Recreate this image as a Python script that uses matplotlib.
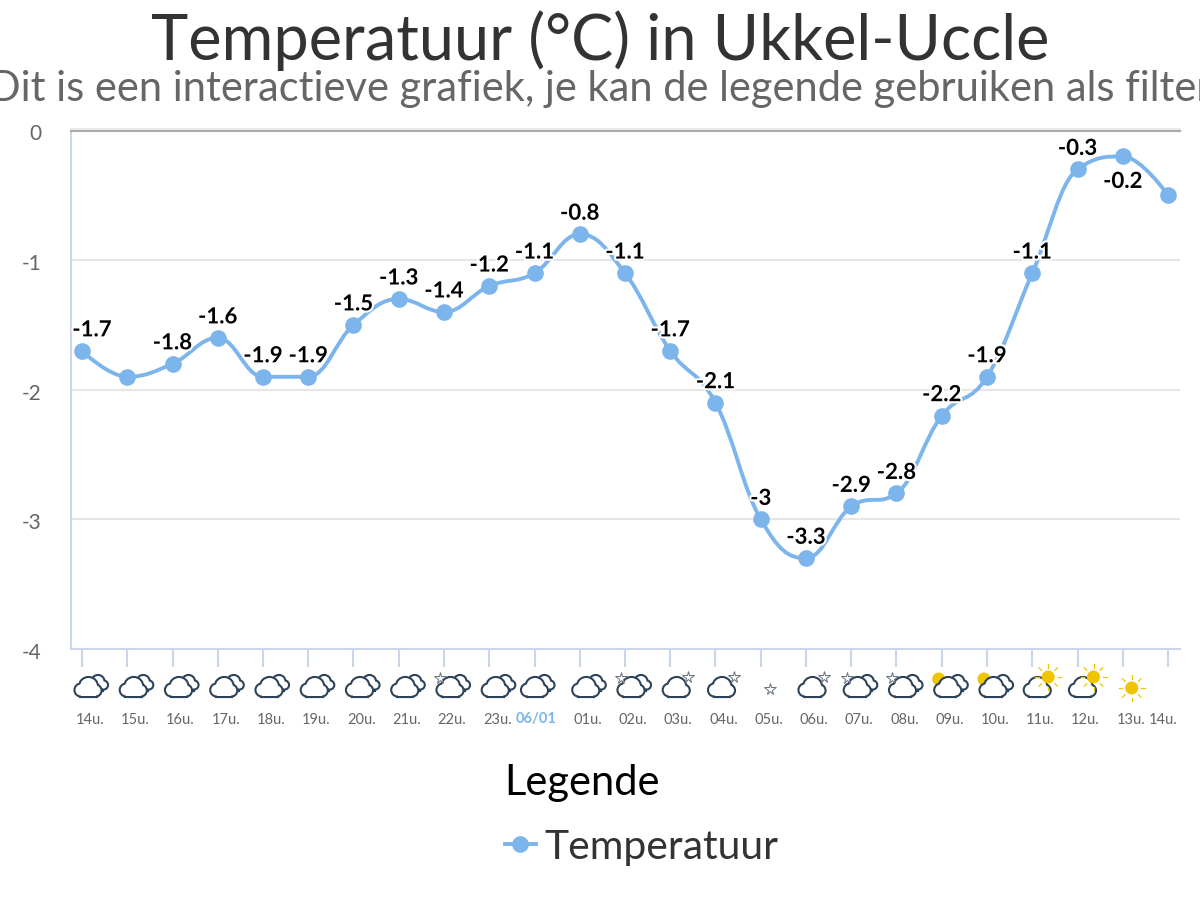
#!/usr/bin/env python3
import matplotlib
matplotlib.use("Agg")
import matplotlib.pyplot as plt
import matplotlib.patheffects as pe
from matplotlib.lines import Line2D
from matplotlib.patches import Circle, PathPatch, Rectangle
from matplotlib.path import Path
from matplotlib.transforms import ScaledTranslation
import numpy as np

plt.rcParams['font.family'] = ['Lato', 'DejaVu Sans']

# ============================================================================
# Data
# ============================================================================

hours = ['14u.', '15u.', '16u.', '17u.', '18u.', '19u.', '20u.', '21u.', '22u.', '23u.',
         '06/01', '01u.', '02u.', '03u.', '04u.', '05u.', '06u.', '07u.', '08u.', '09u.',
         '10u.', '11u.', '12u.', '13u.', '14u.']
temps = [-1.7, -1.9, -1.8, -1.6, -1.9, -1.9, -1.5, -1.3, -1.4, -1.2,
         -1.1, -0.8, -1.1, -1.7, -2.1, -3, -3.3, -2.9, -2.8, -2.2,
         -1.9, -1.1, -0.3, -0.2, -0.5]
# Labels the chart leaves out (index 1 and the last point)
hidden_labels = [1, 24]
labels_below = [23]
y_ticks = [0, -1, -2, -3, -4]

# Weather icon per hour
icons = ['clouds', 'clouds', 'clouds', 'clouds', 'clouds', 'clouds', 'clouds', 'clouds',
         'star_clouds', 'clouds', 'clouds', 'clouds', 'star_clouds', 'cloud_star', 'cloud_star',
         'star', 'cloud_star', 'star_clouds', 'star_clouds', 'sun_clouds', 'sun_clouds',
         'cloud_sun', 'cloud_sun', 'sun', None]

BLUE = '#7cb5ec'
AXIS = '#ccd6eb'
GRID = '#e6e6e6'
INK = '#2d4359'
SUN = '#f0c400'
STAR = '#66707c'


def spline_path(xs, ys, smoothing=1.5):
    """Bezier path through the points, same construction as a Highcharts spline."""
    denom = smoothing + 1
    verts = [(xs[0], ys[0])]
    codes = [Path.MOVETO]
    n = len(xs)
    left = [None] * n
    right = [None] * n
    for i in range(1, n - 1):
        lx = (smoothing * xs[i] + xs[i - 1]) / denom
        ly = (smoothing * ys[i] + ys[i - 1]) / denom
        rx = (smoothing * xs[i] + xs[i + 1]) / denom
        ry = (smoothing * ys[i] + ys[i + 1]) / denom
        corr = (ry - ly) * (rx - xs[i]) / (rx - lx) + ys[i] - ry
        ly += corr
        ry += corr
        # Avoid overshoot past the neighbours
        if ly > ys[i - 1] and ly > ys[i]:
            ly = max(ys[i - 1], ys[i])
            ry = 2 * ys[i] - ly
        elif ly < ys[i - 1] and ly < ys[i]:
            ly = min(ys[i - 1], ys[i])
            ry = 2 * ys[i] - ly
        if ry > ys[i + 1] and ry > ys[i]:
            ry = max(ys[i + 1], ys[i])
            ly = 2 * ys[i] - ry
        elif ry < ys[i + 1] and ry < ys[i]:
            ry = min(ys[i + 1], ys[i])
            ly = 2 * ys[i] - ry
        left[i] = (lx, ly)
        right[i] = (rx, ry)
    for i in range(1, n):
        c1 = right[i - 1] if right[i - 1] else (xs[i - 1], ys[i - 1])
        c2 = left[i] if left[i] else (xs[i], ys[i])
        verts += [c1, c2, (xs[i], ys[i])]
        codes += [Path.CURVE4] * 3
    return Path(verts, codes)


def outlined(ov, circles, rects, z):
    # Union of shapes: stroke everything first, then fill on top without stroke
    for c in circles:
        ov.add_patch(Circle(c[:2], c[2], fc='white', ec=INK, lw=3.0, zorder=z))
    for r in rects:
        ov.add_patch(Rectangle(r[:2], r[2], r[3], fc='white', ec=INK, lw=3.0, zorder=z))
    for c in circles:
        ov.add_patch(Circle(c[:2], c[2], fc='white', ec='none', zorder=z + 0.1))
    for r in rects:
        ov.add_patch(Rectangle(r[:2], r[2], r[3], fc='white', ec='none', zorder=z + 0.1))


def draw_cloud(ov, x0, y0=695.5, back=False):
    # x0 = left edge of the front cloud, y0 = its flat bottom (pixels, y down)
    if back:
        outlined(ov, [(x0 + 24, y0 - 14, 5.5), (x0 + 29.5, y0 - 10.5, 3.5)],
                 [(x0 + 20, y0 - 10, 8, 4)], 3)
    outlined(ov, [(x0 + 7, y0 - 5.5, 5.5), (x0 + 14.5, y0 - 9, 8.5), (x0 + 21.5, y0 - 5, 5)],
             [(x0 + 7, y0 - 5, 14.5, 5)], 4)


def draw_star(ov, x, y):
    ov.plot([x], [y], marker='*', ms=8.5, mfc='white', mec=STAR, mew=0.7, ls='none', zorder=5)


def draw_sun(ov, x, y, rays=True):
    ov.add_patch(Circle((x, y), 6.5, fc=SUN, ec='none', zorder=6 if rays else 2))
    if rays:
        for a in np.arange(0, 360, 45):
            dx, dy = np.cos(np.radians(a)), np.sin(np.radians(a))
            ov.plot([x + 9.5 * dx, x + 13 * dx], [y + 9.5 * dy, y + 13 * dy],
                    color=SUN, lw=0.9, zorder=6)


def draw_icon(ov, kind, cx):
    if kind == 'clouds':
        draw_cloud(ov, cx - 16, back=True)
    elif kind == 'star_clouds':
        draw_cloud(ov, cx - 16, back=True)
        draw_star(ov, cx - 12.5, 678)
    elif kind == 'cloud_star':
        draw_cloud(ov, cx - 16)
        draw_star(ov, cx + 10, 677)
    elif kind == 'star':
        draw_star(ov, cx + 1, 689)
    elif kind == 'sun_clouds':
        draw_sun(ov, cx - 11, 679, rays=False)
        draw_cloud(ov, cx - 16, back=True)
    elif kind == 'cloud_sun':
        draw_cloud(ov, cx - 17)
        draw_sun(ov, cx + 8, 677)
    elif kind == 'sun':
        draw_sun(ov, cx + 1, 688)


def main():
    fig = plt.figure(figsize=(12, 9), dpi=100, facecolor='white')

    # 1. Plot area, placed by pixels (71..1180 across, 130.5..649 down)
    ax = fig.add_axes([71 / 1200, 1 - 649 / 900, (1180 - 71) / 1200, (649 - 130.5) / 900])
    x = np.arange(len(temps))
    step = (1168 - 82) / (len(temps) - 1)
    ax.set_xlim(-(82 - 71) / step, len(temps) - 1 + (1180 - 1168) / step)
    ax.set_ylim(-4, 0)

    # 2. Axes and grid
    ax.spines['right'].set_visible(False)
    for name in ['left', 'bottom']:
        ax.spines[name].set_color(AXIS)
        ax.spines[name].set_linewidth(1.5)
    ax.spines['top'].set_color('#aaaaaa')
    ax.spines['top'].set_linewidth(1.5)
    ax.set_yticks(y_ticks)
    ax.set_yticklabels([str(v) for v in y_ticks], fontsize=15, color='#666666')
    ax.tick_params(axis='y', length=0, pad=21)
    # Tick labels sit slightly below their gridline
    for label in ax.get_yticklabels():
        label.set_transform(label.get_transform() + ScaledTranslation(0, -2 / 100, fig.dpi_scale_trans))
    ax.set_xticks(x)
    ax.set_xticklabels([])
    ax.tick_params(axis='x', length=13, width=1.5, color=AXIS)
    ax.grid(True, axis='y', color=GRID, linewidth=1.5)
    ax.set_axisbelow(True)

    # 3. Smooth line and markers
    ax.add_patch(PathPatch(spline_path(x, temps), fc='none', ec=BLUE, lw=2.8,
                           capstyle='round', zorder=3))
    ax.plot(x, temps, ls='none', marker='o', ms=12, color=BLUE, mec='none', zorder=4,
            clip_on=False)

    # 4. Value labels
    halo = [pe.withStroke(linewidth=3, foreground='white')]
    for i, v in enumerate(temps):
        if i in hidden_labels:
            continue
        dy = -25 if i in labels_below else 21
        dx = 10 if i == 0 else 0
        ax.annotate(str(v), (i, v), xytext=(dx * 0.72, dy * 0.72), textcoords='offset points',
                    ha='center', va='center', fontsize=16, fontweight='bold', color='black',
                    path_effects=halo, zorder=6, annotation_clip=False)

    # 5. Overlay in figure pixels for the hour labels and weather icons
    ov = fig.add_axes([0, 0, 1, 1], facecolor='none')
    ov.set_xlim(0, 1200)
    ov.set_ylim(900, 0)
    ov.axis('off')
    ov.plot([71, 1180], [128.7, 128.7], color=GRID, lw=1.2, zorder=1)
    for i, (hour, icon) in enumerate(zip(hours, icons)):
        px = 82 + i * step
        if hour == '06/01':
            cx = px + 2
        elif i == len(hours) - 1:
            cx = px - 5
        else:
            cx = px + 8
        bold = hour == '06/01'
        ov.text(cx, 719.5, hour, ha='center', va='center', fontsize=10.5,
                color=BLUE if bold else '#666666', fontweight='bold' if bold else 'normal')
        draw_icon(ov, icon, cx)

    # 6. Titles
    fig.text(0.5, 1 - 41 / 900, 'Temperatuur (°C) in Ukkel-Uccle', ha='center', va='center',
             fontsize=45.4, color='#333333')
    fig.text(0.5, 1 - 89 / 900, 'Dit is een interactieve grafiek, je kan de legende gebruiken als filter',
             ha='center', va='center', fontsize=30, color='#666666')

    # 7. Legend
    handle = Line2D([], [], color=BLUE, lw=2.8, marker='o', ms=12, mec='none')
    leg = ov.legend([handle], ['Temperatuur'], title='Legende', frameon=False, fontsize=29.4,
                    title_fontsize=30, loc='upper left', alignment='left', labelcolor='#333333',
                    bbox_to_anchor=(472 / 1200, 1 - 731 / 900), bbox_transform=fig.transFigure,
                    handlelength=0.76, handletextpad=0.22, borderpad=0.3, labelspacing=0.66)
    leg.get_title().set_color('black')

    plt.savefig('out.png', dpi=100)
    plt.close(fig)


if __name__ == "__main__":
    main()
